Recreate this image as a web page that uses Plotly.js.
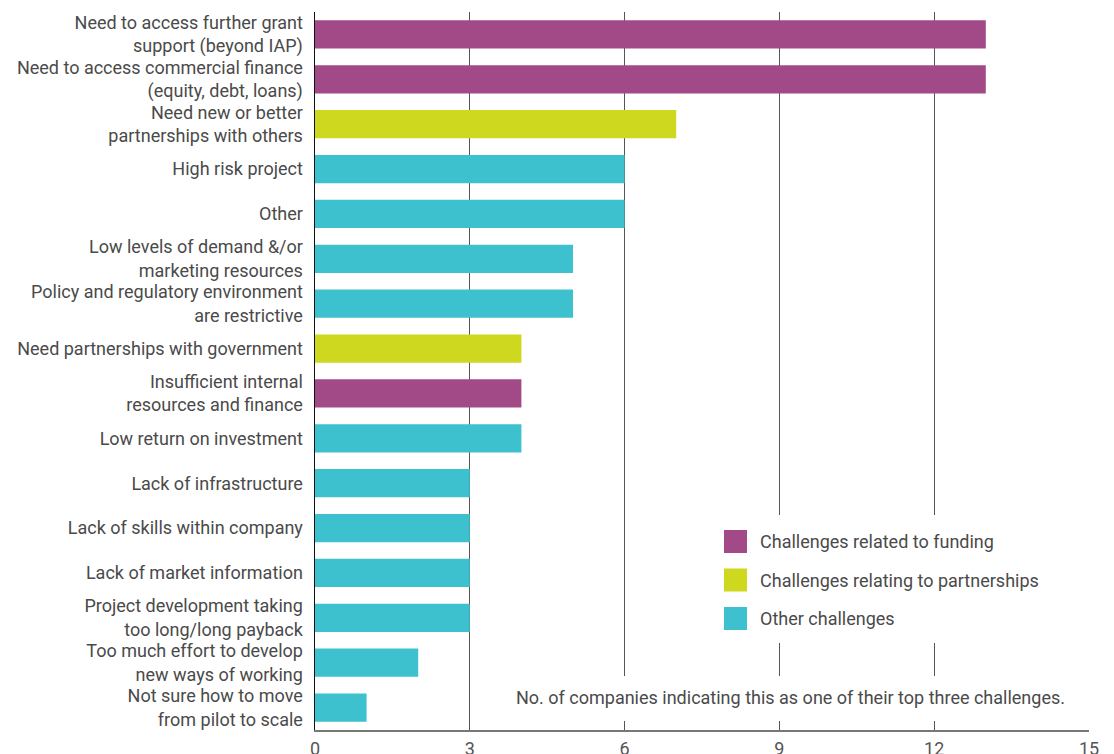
<!DOCTYPE html>
<html>
<head>
<meta charset="utf-8">
<script src="https://cdn.plot.ly/plotly-3.0.1.min.js"></script>
<style>html,body{margin:0;padding:0;background:#fff;}#chart{width:1114px;height:754px;}</style>
</head>
<body>
<div id="chart"></div>
<script>
// ---- data ----
const categories = [
  "Need to access further grant support (beyond IAP)",
  "Need to access commercial finance (equity, debt, loans)",
  "Need new or better partnerships with others",
  "High risk project",
  "Other",
  "Low levels of demand &/or marketing resources",
  "Policy and regulatory environment are restrictive",
  "Need partnerships with government",
  "Insufficient internal resources and finance",
  "Low return on investment",
  "Lack of infrastructure",
  "Lack of skills within company",
  "Lack of market information",
  "Project development taking too long/long payback",
  "Too much effort to develop new ways of working",
  "Not sure how to move from pilot to scale"
];
const tickLabels = [
  "Need to access further grant<br>support (beyond IAP)",
  "Need to access commercial finance<br>(equity, debt, loans)",
  "Need new or better<br>partnerships with others",
  "High risk project",
  "Other",
  "Low levels of demand &/or<br>marketing resources",
  "Policy and regulatory environment<br>are restrictive",
  "Need partnerships with government",
  "Insufficient internal<br>resources and finance",
  "Low return on investment",
  "Lack of infrastructure",
  "Lack of skills within company",
  "Lack of market information",
  "Project development taking<br>too long/long payback",
  "Too much effort to develop<br>new ways of working",
  "Not sure how to move<br>from pilot to scale"
];
const values = [13, 13, 7, 6, 6, 5, 5, 4, 4, 4, 3, 3, 3, 3, 2, 1];
const groups = ["funding","funding","partnerships","other","other","other","other","partnerships","funding","other","other","other","other","other","other","other"];
const groupNames = ["Challenges related to funding", "Challenges relating to partnerships", "Other challenges"];
const groupKeys = ["funding", "partnerships", "other"];
const groupColors = ["#A24A87", "#CDD81F", "#3DC1CF"];
const xTicks = [0, 3, 6, 9, 12, 15];
const footnote = "No. of companies indicating this as one of their top three challenges.";

// ---- layout geometry (pixels) ----
const W = 1114, H = 754;
const M = {l: 315, r: 25, t: 12, b: 24};
const PW = W - M.l - M.r, PH = H - M.t - M.b;
const px = x => (x - M.l) / PW;          // pixel -> paper x
const py = y => 1 - (y - M.t) / PH;      // pixel -> paper y

const FONT = "Roboto, 'Open Sans', sans-serif";
const TXT = "#4a4a4a";
const FS = 18;

const traces = groupKeys.map((g, gi) => {
  const ys = [], xs = [];
  categories.forEach((c, i) => { if (groups[i] === g) { ys.push(c); xs.push(values[i]); } });
  return {
    type: "bar", orientation: "h", x: xs, y: ys, name: groupNames[gi],
    marker: {color: groupColors[gi]}, width: 0.63, showlegend: false,
    hoverinfo: "x+y"
  };
});

const shapes = [];
const annotations = [];
// legend background
shapes.push({type: "rect", xref: "paper", yref: "paper", layer: "above",
  x0: px(700), x1: px(1078), y0: py(515), y1: py(643),
  fillcolor: "#ffffff", line: {width: 0}});
// footnote background
shapes.push({type: "rect", xref: "paper", yref: "paper", layer: "above",
  x0: px(492), x1: px(1078), y0: py(676), y1: py(721),
  fillcolor: "#ffffff", line: {width: 0}});
// legend entries
const legY = [541.5, 580, 618.5];
groupNames.forEach((n, i) => {
  shapes.push({type: "rect", xref: "paper", yref: "paper", layer: "above",
    x0: px(724), x1: px(747), y0: py(legY[i] - 11.5), y1: py(legY[i] + 11.5),
    fillcolor: groupColors[i], line: {width: 0}});
  annotations.push({xref: "paper", yref: "paper", x: px(758), y: py(legY[i]),
    xanchor: "left", yanchor: "middle", text: n, showarrow: false,
    font: {family: FONT, size: FS, color: TXT}});
});
annotations.push({xref: "paper", yref: "paper", x: px(1067), y: py(697),
  xanchor: "right", yanchor: "middle", text: footnote, showarrow: false,
  font: {family: FONT, size: FS, color: TXT}});

const layout = {
  width: W, height: H,
  margin: M,
  paper_bgcolor: "#ffffff", plot_bgcolor: "#ffffff",
  barmode: "overlay",
  showlegend: false,
  font: {family: FONT, color: TXT, size: FS},
  xaxis: {
    range: [0, 15], tickvals: xTicks, ticktext: xTicks.map(String),
    showgrid: true, gridcolor: "#555555", gridwidth: 1,
    zeroline: false, showline: true, linecolor: "#777777", linewidth: 1.5,
    ticks: "", ticklabelstandoff: 2,
    tickfont: {family: FONT, size: FS, color: "#555555"}, fixedrange: true
  },
  yaxis: {
    type: "category", categoryorder: "array", categoryarray: categories,
    range: [15.5, -0.5], tickvals: categories, ticktext: tickLabels,
    showgrid: false, zeroline: false, showline: true, linecolor: "#111111", linewidth: 1.5,
    ticks: "", ticklabelstandoff: 7,
    tickfont: {family: FONT, size: FS, color: TXT}, fixedrange: true
  },
  shapes: shapes,
  annotations: annotations
};

Plotly.newPlot("chart", traces, layout, {displayModeBar: false, staticPlot: true});
</script>
</body>
</html>
